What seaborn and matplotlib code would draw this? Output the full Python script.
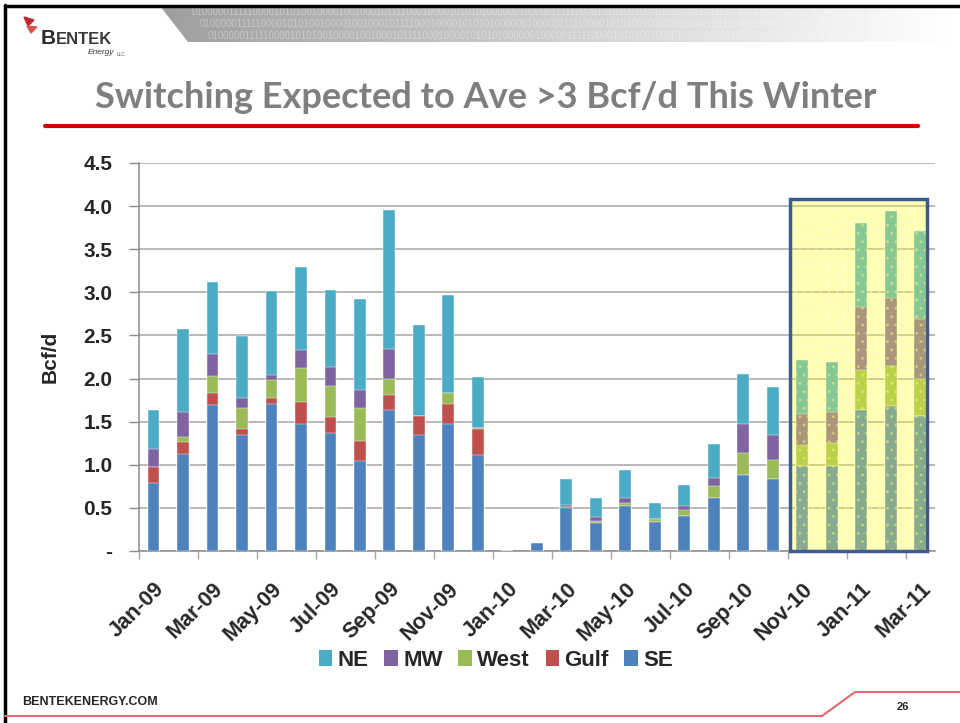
import numpy as np
import pandas as pd
import matplotlib
matplotlib.use("Agg")
import matplotlib.pyplot as plt
import seaborn as sns
from matplotlib.patches import Rectangle, Polygon, Patch
from matplotlib.lines import Line2D

# Monthly gas-to-coal switching by region (Bcf/d)
months = ["Jan-09", "Feb-09", "Mar-09", "Apr-09", "May-09", "Jun-09", "Jul-09",
          "Aug-09", "Sep-09", "Oct-09", "Nov-09", "Dec-09", "Jan-10", "Feb-10",
          "Mar-10", "Apr-10", "May-10", "Jun-10", "Jul-10", "Aug-10", "Sep-10",
          "Oct-10", "Nov-10", "Dec-10", "Jan-11", "Feb-11", "Mar-11"]
se = [0.79, 1.13, 1.69, 1.34, 1.70, 1.47, 1.37, 1.04, 1.64, 1.34, 1.47, 1.11, 0.00, 0.09,
      0.50, 0.33, 0.52, 0.34, 0.41, 0.62, 0.88, 0.83, 0.99, 0.99, 1.64, 1.68, 1.57]
gulf = [0.18, 0.13, 0.14, 0.08, 0.08, 0.26, 0.18, 0.23, 0.17, 0.22, 0.24, 0.31, 0.00, 0.00,
        0.01, 0.00, 0.00, 0.00, 0.00, 0.00, 0.00, 0.00, 0.00, 0.00, 0.00, 0.00, 0.00]
west = [0.00, 0.06, 0.20, 0.24, 0.20, 0.39, 0.36, 0.39, 0.19, 0.00, 0.12, 0.01, 0.00, 0.00,
        0.00, 0.02, 0.035, 0.03, 0.07, 0.13, 0.26, 0.23, 0.24, 0.26, 0.46, 0.47, 0.42]
mw = [0.21, 0.29, 0.25, 0.11, 0.06, 0.21, 0.22, 0.21, 0.34, 0.00, 0.00, 0.00, 0.00, 0.00,
      0.02, 0.05, 0.055, 0.00, 0.04, 0.10, 0.33, 0.29, 0.36, 0.36, 0.73, 0.78, 0.70]
ne = [0.45, 0.97, 0.84, 0.72, 0.97, 0.96, 0.90, 1.05, 1.61, 1.06, 1.14, 0.59, 0.00, 0.00,
      0.31, 0.22, 0.33, 0.19, 0.24, 0.39, 0.58, 0.55, 0.62, 0.58, 0.97, 1.01, 1.02]

regions = ["SE", "Gulf", "West", "MW", "NE"]          # bottom -> top
legend_order = ["NE", "MW", "West", "Gulf", "SE"]
colors = {"NE": "#4BACC6", "MW": "#8064A2", "West": "#9BBB59",
          "Gulf": "#C0504D", "SE": "#4F81BD"}
yticks = [0, 0.5, 1.0, 1.5, 2.0, 2.5, 3.0, 3.5, 4.0, 4.5]
ytick_labels = ["-", "0.5", "1.0", "1.5", "2.0", "2.5", "3.0", "3.5", "4.0", "4.5"]

df = pd.DataFrame({"month": months, "SE": se, "Gulf": gulf, "West": west, "MW": mw, "NE": ne})
cum = df[regions].cumsum(axis=1)

sns.set_theme(style="white")
plt.rcParams["font.family"] = ["Liberation Sans", "DejaVu Sans"]

W, H = 960, 723
fig = plt.figure(figsize=(9.6, 7.23), dpi=100)
fig.patch.set_facecolor("white")


def fx(px):
    return px / W


def fy(py):
    return 1 - py / H


ax = fig.add_axes([fx(138.7), fy(551), fx(935) - fx(138.7), fy(163) - fy(551)])

# stacked bars: draw cumulative totals from the top layer down
for name in reversed(regions):
    sns.barplot(x=df["month"], y=cum[name], order=months, color=colors[name],
                width=0.4, saturation=1, errorbar=None, ax=ax,
                edgecolor="white", linewidth=0.3, zorder=3)

ax.set_xlim(-0.5, 26.5)
ax.set_ylim(0, 4.5)
ax.set_xlabel("")
ax.set_ylabel("")

ax.set_yticks(yticks)
ax.set_yticklabels(ytick_labels, fontsize=15, fontweight="bold")
ax.tick_params(axis="y", which="major", length=7, width=1, color="#8C8C8C",
               direction="out", pad=12, left=True)
ax.yaxis.grid(True, color="#A6A6A6", linewidth=1.1, zorder=0)
ax.set_axisbelow(True)

ax.set_xticks(range(0, 27, 2))
ax.set_xticklabels(months[::2], rotation=45, ha="right", va="top",
                   rotation_mode="anchor", fontsize=15.5, fontweight="bold")
ax.tick_params(axis="x", which="major", length=0, pad=20)
ax.set_xticks(np.arange(-0.5, 26, 2), minor=True)
ax.tick_params(axis="x", which="minor", length=6, width=1, color="#A6A6A6",
               direction="out", bottom=True)

for side in ["top", "right"]:
    ax.spines[side].set_visible(False)
for side in ["left", "bottom"]:
    ax.spines[side].set_color("#8C8C8C")
    ax.spines[side].set_linewidth(1.1)

# winter forecast highlight
ax.add_patch(Rectangle((21.6, 0), 4.63, 4.08, facecolor="#FFFF30", alpha=0.33,
                       edgecolor="none", zorder=5))
ax.add_patch(Rectangle((21.6, 0), 4.63, 4.08, fill=False, hatch="..",
                       edgecolor=(1, 1, 0.5, 0.35), linewidth=0, zorder=5))
ax.add_patch(Rectangle((21.6, 0), 4.63, 4.08, fill=False, edgecolor="#3B5C8C",
                       linewidth=2.5, zorder=6, clip_on=False))

fig.text(fx(50), fy(357), "Bcf/d", rotation=90, ha="center", va="center",
         fontsize=15, fontweight="bold")

handles = [Patch(facecolor=colors[n], edgecolor="none", label=n) for n in legend_order]
fig.legend(handles=handles, loc="center", bbox_to_anchor=(fx(496), fy(660)), ncol=5,
           frameon=False, handlelength=0.6, handleheight=0.75, handletextpad=0.25,
           columnspacing=0.7, prop={"size": 16, "weight": "bold"})

# slide title and rule
fig.text(fx(486), fy(98), "Switching Expected to Ave >3 Bcf/d This Winter", ha="center",
         va="center", fontsize=26, fontweight="bold", color="#7F7F7F", family="Lato")
fig.add_artist(Line2D([fx(45), fx(918)], [fy(126), fy(126)], color="#D40000",
                      linewidth=3, transform=fig.transFigure))

# header banner with gradient
banner = fig.add_axes([fx(160), fy(42), fx(800), fy(6) - fy(42)])
grad = np.linspace(0.62, 1.0, 256).reshape(1, -1)
img = banner.imshow(grad, aspect="auto", cmap="gray", vmin=0, vmax=1,
                    extent=[0, 1, 0, 1])
clip = Polygon([[0, 1], [1, 1], [1, 0], [0.035, 0]], closed=True,
               transform=banner.transAxes)
img.set_clip_path(clip)
digits = "0100000111110000101010010000100100010111100010000101010100000"
for i, yy in enumerate([0.82, 0.5, 0.18]):
    banner.text(0.04 + i * 0.01, yy, digits * 2, fontsize=7, color="white", alpha=0.35,
                va="center", ha="left", transform=banner.transAxes, clip_on=True)
banner.set_axis_off()

# logo
fig.add_artist(Polygon([[fx(24), fy(17)], [fx(34), fy(20)], [fx(28), fy(26)]],
                       closed=True, color="#C0282D", transform=fig.transFigure))
fig.add_artist(Polygon([[fx(27), fy(26)], [fx(37), fy(27)], [fx(31), fy(33)]],
                       closed=True, color="#D9534F", transform=fig.transFigure))
fig.text(fx(41), fy(44), "B", fontsize=15, fontweight="bold", color="#2B2B2B",
         ha="left", va="baseline")
fig.text(fx(56), fy(44), "ENTEK", fontsize=12, fontweight="bold", color="#3A3A3A",
         ha="left", va="baseline")
fig.text(fx(88), fy(53), "Energy", fontsize=6, style="italic", color="#333333",
         ha="left", va="center")
fig.text(fx(117), fy(54), "LLC", fontsize=3.5, color="#555555", ha="left", va="center")

# slide frame
fig.add_artist(Line2D([fx(5), fx(5)], [fy(5), 0], color="black", linewidth=2.5,
                      transform=fig.transFigure))
fig.add_artist(Line2D([fx(5), 1], [fy(6), fy(6)], color="black", linewidth=2.5,
                      transform=fig.transFigure))

# footer
fig.add_artist(Line2D([fx(5), fx(822), fx(855), 1], [fy(716), fy(716), fy(692), fy(692)],
                      color="#E06A6A", linewidth=1.5, transform=fig.transFigure))
fig.text(fx(22), fy(702), "BENTEKENERGY.COM", fontsize=9, fontweight="bold",
         ha="left", va="center")
fig.text(fx(903), fy(707), "26", fontsize=8, fontweight="bold", ha="center", va="center")

fig.savefig("out.png", dpi=100)
